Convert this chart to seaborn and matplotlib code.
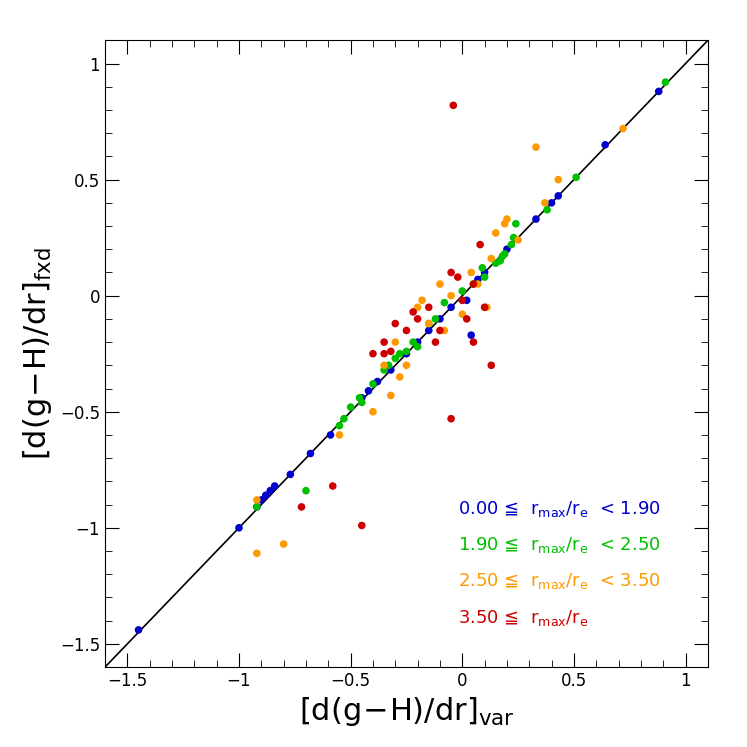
import matplotlib
matplotlib.use("Agg")
import matplotlib.pyplot as plt
import seaborn as sns
import pandas as pd
from matplotlib.ticker import MultipleLocator

blue_x = [-1.45,-1.0,-0.92,-0.9,-0.88,-0.86,-0.84,-0.77,-0.68,-0.59,-0.45,-0.42,-0.38,-0.32,-0.2,-0.1,-0.05,0.02,0.04,0.1,0.2,0.33,0.4,0.43,0.64,0.88,-0.15,-0.25,0.07]
blue_y = [-1.44,-1.0,-0.91,-0.88,-0.86,-0.84,-0.82,-0.77,-0.68,-0.6,-0.44,-0.41,-0.37,-0.32,-0.2,-0.1,-0.05,-0.02,-0.17,0.1,0.2,0.33,0.4,0.43,0.65,0.88,-0.15,-0.25,0.07]
green_x = [0.91,0.51,0.38,0.23,0.24,0.22,0.18,0.17,0.09,0.05,-0.08,-0.15,-0.25,-0.3,-0.35,-0.4,-0.45,-0.5,-0.53,-0.55,-0.7,-0.92,-0.2,0.0,0.1,-0.28,-0.46,0.15,-0.12,-0.22,-0.33,0.19]
green_y = [0.92,0.51,0.37,0.25,0.31,0.22,0.17,0.15,0.12,0.05,-0.03,-0.12,-0.24,-0.27,-0.32,-0.38,-0.46,-0.48,-0.53,-0.56,-0.84,-0.91,-0.22,0.02,0.08,-0.25,-0.44,0.14,-0.1,-0.2,-0.3,0.18]
orange_x = [0.72,0.33,0.43,0.37,0.2,0.19,0.15,0.25,0.13,0.07,0.11,-0.05,-0.1,-0.2,-0.3,-0.35,-0.4,-0.32,-0.55,-0.92,-0.92,-0.8,-0.25,-0.15,0.0,-0.18,-0.08,0.04,-0.28]
orange_y = [0.72,0.64,0.5,0.4,0.33,0.31,0.27,0.24,0.16,0.05,-0.05,0.0,0.05,-0.05,-0.2,-0.3,-0.5,-0.43,-0.6,-0.88,-1.11,-1.07,-0.3,-0.12,-0.08,-0.02,-0.15,0.1,-0.35]
red_x = [-0.04,0.08,-0.05,0.05,0.0,-0.1,-0.2,-0.3,-0.35,-0.4,-0.35,-0.05,0.13,-0.58,-0.72,-0.45,-0.15,0.05,-0.25,-0.02,0.1,-0.22,-0.12,0.02,-0.32]
red_y = [0.82,0.22,0.1,0.05,-0.02,-0.15,-0.1,-0.12,-0.2,-0.25,-0.25,-0.53,-0.3,-0.82,-0.91,-0.99,-0.05,-0.2,-0.15,0.08,-0.05,-0.07,-0.2,-0.1,-0.24]

groups = [r"0.00 ≦  $\mathrm{r_{max}/r_e}$  < 1.90", r"1.90 ≦  $\mathrm{r_{max}/r_e}$  < 2.50",
          r"2.50 ≦  $\mathrm{r_{max}/r_e}$  < 3.50", r"3.50 ≦  $\mathrm{r_{max}/r_e}$"]
colors = ["#0000cc", "#00c000", "#ff9900", "#cc0000"]

rows = []
for g, xs, ys in zip(groups, [blue_x, green_x, orange_x, red_x], [blue_y, green_y, orange_y, red_y]):
    rows += [(x, y, g) for x, y in zip(xs, ys)]
df = pd.DataFrame(rows, columns=["x", "y", "g"])

fig = plt.figure(figsize=(7.47, 7.47), dpi=100)
ax = fig.add_axes([0.1406, 0.107, 0.807, 0.839])
ax.plot([-1.6, 1.1], [-1.6, 1.1], color="black", lw=1.2, zorder=1)
sns.scatterplot(data=df, x="x", y="y", hue="g", palette=colors, s=30, edgecolor="none", ax=ax, legend=False, zorder=2)
ax.set_xlim(-1.6, 1.1)
ax.set_ylim(-1.6, 1.1)
ax.xaxis.set_major_locator(MultipleLocator(0.5))
ax.yaxis.set_major_locator(MultipleLocator(0.5))
ax.xaxis.set_minor_locator(MultipleLocator(0.1))
ax.yaxis.set_minor_locator(MultipleLocator(0.1))
ax.tick_params(which="both", direction="in", top=True, right=True, labelsize=12)
ax.tick_params(which="major", length=10)
ax.tick_params(which="minor", length=5)
fmt = lambda v, p: ("%g" % v).replace("-", "−")
ax.xaxis.set_major_formatter(fmt)
ax.yaxis.set_major_formatter(fmt)
ax.set_xlabel(r"$\left[\mathrm{d(g\!-\!H)/dr}\right]_{\mathrm{var}}$", fontsize=22)
ax.set_ylabel(r"$\left[\mathrm{d(g\!-\!H)/dr}\right]_{\mathrm{fxd}}$", fontsize=22)
for i, (g, c) in enumerate(zip(groups, colors)):
    ax.text(0.585, 0.245 - i * 0.058, g, color=c, fontsize=13, transform=ax.transAxes)
fig.savefig("out.png", dpi=100)
